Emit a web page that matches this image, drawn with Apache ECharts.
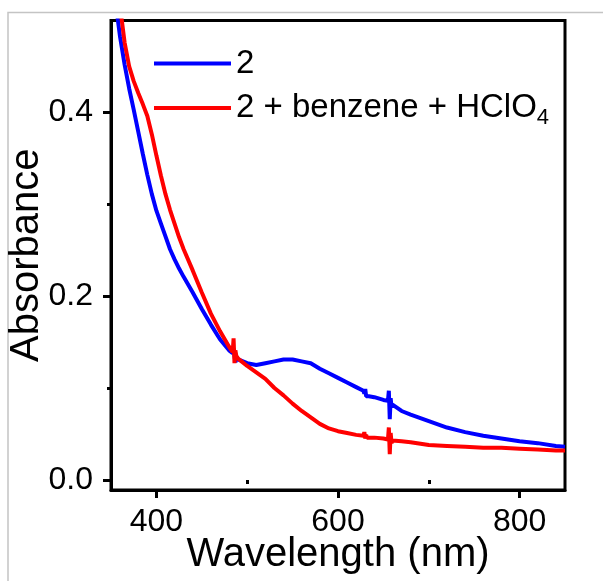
<!DOCTYPE html>
<html>
<head>
<meta charset="utf-8">
<script src="https://cdn.jsdelivr.net/npm/echarts@6/dist/echarts.min.js"></script>
<style>
html,body{margin:0;padding:0;background:#fff;}
#chart{width:603px;height:581px;}
</style>
</head>
<body>
<div id="chart"></div>
<script>
// Wavelength grid (nm)
const wavelengths = [355,360,365,370,375,380,385,390,395,400,405,410,415,420,425,430,440,450,460,470,480,484,485,486,487,488,490,500,510,520,530,540,550,560,570,580,590,600,610,620,628,629,630,631,632,634,640,650,655,656,657,658,659,660,670,680,700,720,740,760,780,800,820,840,850];
// Absorbance of "2"
const blueValues = [0.52,0.482,0.452,0.426,0.403,0.379,0.355,0.332,0.311,0.293,0.279,0.265,0.251,0.240,0.230,0.221,0.204,0.186,0.169,0.153,0.141,0.138,0.143,0.135,0.128,0.132,0.131,0.127,0.125,0.127,0.129,0.131,0.131,0.129,0.127,0.121,0.116,0.111,0.106,0.101,0.097,0.094,0.099,0.091,0.093,0.091,0.090,0.087,0.086,0.097,0.066,0.089,0.079,0.082,0.075,0.071,0.064,0.057,0.052,0.048,0.045,0.042,0.040,0.037,0.036];
// Absorbance of "2 + benzene + HClO4"
const redValues = [0.56,0.515,0.476,0.450,0.434,0.421,0.409,0.396,0.376,0.353,0.331,0.311,0.294,0.279,0.264,0.251,0.228,0.204,0.181,0.162,0.145,0.139,0.154,0.127,0.141,0.135,0.132,0.124,0.117,0.110,0.100,0.092,0.083,0.075,0.068,0.061,0.056,0.053,0.051,0.049,0.048,0.052,0.045,0.049,0.046,0.048,0.046,0.045,0.044,0.057,0.028,0.051,0.040,0.043,0.042,0.041,0.038,0.037,0.036,0.035,0.035,0.034,0.033,0.032,0.032];
const seriesNames = ['2', '2 + benzene + HClO4'];
const xMajorTicks = [400, 600, 800];
const xMinorTicks = [500, 700];
const yMajorTicks = [0, 0.2, 0.4];
const yMinorTicks = [0.1, 0.3];

const FONT = '"Liberation Sans", Arial, sans-serif';
const chart = echarts.init(document.getElementById('chart'), null, {renderer: 'canvas'});

function pairs(vals) { return wavelengths.map((w, i) => [w, vals[i]]); }

const xBase = {type: 'value', min: 350, max: 850, gridIndex: 0, position: 'bottom', splitLine: {show: false}};
const yBase = {type: 'value', min: -0.011, max: 0.5, gridIndex: 0, position: 'left', splitLine: {show: false}};

chart.setOption({
  animation: false,
  backgroundColor: '#fff',
  graphic: [{
    type: 'rect', shape: {x: 8, y: 12.5, width: 700, height: 700},
    style: {fill: null, stroke: '#c4c4c4', lineWidth: 1.5}, silent: true, z: -1
  }],
  grid: {left: 111, right: 38, top: 20.5, bottom: 91, containLabel: false, outerBoundsMode: 'none',
    show: true, borderColor: '#000', borderWidth: 3, backgroundColor: 'transparent'},
  legend: {
    orient: 'vertical', left: 154, top: 47, padding: 0, itemWidth: 77, itemHeight: 4, itemGap: 7,
    icon: 'rect', data: seriesNames,
    textStyle: {
      color: '#000', fontFamily: FONT, fontSize: 33,
      rich: {
        a: {fontSize: 33, lineHeight: 32, fontFamily: FONT, color: '#000'},
        s: {fontSize: 22, lineHeight: 12, padding: [20, 0, 0, 0], fontFamily: FONT, color: '#000'}
      }
    },
    formatter: function (name) {
      if (name === seriesNames[1]) return '{a|2 + benzene + HClO}{s|4}';
      return '{a|' + name + '}';
    }
  },
  xAxis: [
    Object.assign({}, xBase, {
      name: 'Wavelength (nm)', nameLocation: 'middle', nameGap: 45, nameMoveOverlap: false,
      nameTextStyle: {fontSize: 40, fontFamily: FONT, color: '#000'},
      axisLine: {show: true, onZero: false, lineStyle: {color: '#000', width: 3}},
      axisTick: {show: true, customValues: xMajorTicks, length: 8, lineStyle: {color: '#000', width: 3}},
      axisLabel: {customValues: xMajorTicks, fontSize: 32, fontFamily: FONT, color: '#000', margin: 16}
    }),
    Object.assign({}, xBase, {
      axisLine: {show: false},
      axisTick: {show: true, customValues: xMinorTicks, length: 4, lineStyle: {color: '#000', width: 3}},
      axisLabel: {show: false}
    })
  ],
  yAxis: [
    Object.assign({}, yBase, {
      name: 'Absorbance', nameLocation: 'middle', nameGap: 64, nameRotate: 90, nameMoveOverlap: false,
      nameTextStyle: {fontSize: 40, fontFamily: FONT, color: '#000'},
      axisLine: {show: true, onZero: false, lineStyle: {color: '#000', width: 3}},
      axisTick: {show: true, customValues: yMajorTicks, length: 8, lineStyle: {color: '#000', width: 3}},
      axisLabel: {customValues: yMajorTicks, fontSize: 32, fontFamily: FONT, color: '#000', margin: 18,
        formatter: v => v.toFixed(1)}
    }),
    Object.assign({}, yBase, {
      axisLine: {show: false},
      axisTick: {show: true, customValues: yMinorTicks, length: 4, lineStyle: {color: '#000', width: 3}},
      axisLabel: {show: false}
    })
  ],
  series: [
    {name: seriesNames[0], type: 'line', data: pairs(blueValues), showSymbol: false, symbol: 'none',
      lineStyle: {color: '#0000ff', width: 4}, itemStyle: {color: '#0000ff'}, clip: true, z: 2},
    {name: seriesNames[1], type: 'line', data: pairs(redValues), showSymbol: false, symbol: 'none',
      lineStyle: {color: '#ff0000', width: 4}, itemStyle: {color: '#ff0000'}, clip: true, z: 3}
  ]
});
</script>
</body>
</html>
